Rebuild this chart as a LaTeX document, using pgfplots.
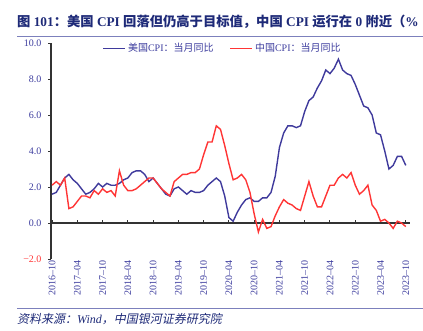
\documentclass[border=0pt]{standalone}
\usepackage{fontspec}
\setmainfont{Liberation Serif}
\newfontfamily\cjk{Noto Sans CJK SC}
\newfontfamily\cjkit[FakeSlant=0.2]{Noto Sans CJK SC}
\usepackage{pgfplots}
\usepackage{pgfplotstable}
\pgfplotsset{compat=1.18}
\definecolor{usblue}{HTML}{3F3A9C}
\definecolor{cnred}{HTML}{FF3535}
\definecolor{tickblue}{HTML}{3D3D9E}
\definecolor{titleblue}{HTML}{1E2A78}
\definecolor{rulecol}{HTML}{7C80BC}

\pgfplotstableread{
i us cn
0 1.6 2.1
1 1.7 2.3
2 2.1 2.1
3 2.5 2.5
4 2.7 0.8
5 2.4 0.9
6 2.2 1.2
7 1.9 1.5
8 1.6 1.5
9 1.7 1.4
10 1.9 1.8
11 2.2 1.6
12 2.0 1.9
13 2.2 1.7
14 2.1 1.8
15 2.1 1.5
16 2.2 2.9
17 2.4 2.1
18 2.5 1.8
19 2.8 1.8
20 2.9 1.9
21 2.9 2.1
22 2.7 2.3
23 2.3 2.5
24 2.5 2.5
25 2.2 2.2
26 1.9 1.9
27 1.6 1.7
28 1.5 1.5
29 1.9 2.3
30 2.0 2.5
31 1.8 2.7
32 1.6 2.7
33 1.8 2.8
34 1.7 2.8
35 1.7 3.0
36 1.8 3.8
37 2.1 4.5
38 2.3 4.5
39 2.5 5.4
40 2.3 5.2
41 1.5 4.3
42 0.3 3.3
43 0.1 2.4
44 0.6 2.5
45 1.0 2.7
46 1.3 2.4
47 1.4 1.7
48 1.2 0.5
49 1.2 -0.5
50 1.4 0.2
51 1.4 -0.3
52 1.7 -0.2
53 2.6 0.4
54 4.2 0.9
55 5.0 1.3
56 5.4 1.1
57 5.4 1.0
58 5.3 0.8
59 5.4 0.7
60 6.2 1.5
61 6.8 2.3
62 7.0 1.5
63 7.5 0.9
64 7.9 0.9
65 8.5 1.5
66 8.3 2.1
67 8.6 2.1
68 9.1 2.5
69 8.5 2.7
70 8.3 2.5
71 8.2 2.8
72 7.7 2.1
73 7.1 1.6
74 6.5 1.8
75 6.4 2.1
76 6.0 1.0
77 5.0 0.7
78 4.9 0.1
79 4.0 0.2
80 3.0 0.0
81 3.2 -0.3
82 3.7 0.1
83 3.7 0.0
84 3.2 -0.2
}\cpidata

\begin{document}
\begin{tikzpicture}
\clip (0,0) rectangle (423pt,330pt);
\path[use as bounding box] (0,0) rectangle (423pt,330pt);
\begin{axis}[
  at={(51pt,71pt)}, anchor=south west,
  scale only axis, width=359pt, height=216pt,
  xmin=-0.25, xmax=85, ymin=-2, ymax=10,
  axis x line=middle, axis y line=left,
  axis line style={-, line width=1.1pt, black!80},
  xtick={0,6,...,84},
  xticklabels={2016--10,2017--04,2017--10,2018--04,2018--10,2019--04,2019--10,2020--04,2020--10,2021--04,2021--10,2022--04,2022--10,2023--04,2023--10},
  xticklabel style={rotate=90, anchor=east, font=\fontsize{10}{10}\selectfont, text=tickblue},
  xticklabel shift=34pt,
  xtick align=inside,
  ytick={-2,0,2,4,6,8,10},
  yticklabels={\textcolor{cnred}{−2.0},0.0,2.0,4.0,6.0,8.0,10.0},
  yticklabel style={font=\fontsize{10}{10}\selectfont, text=tickblue, xshift=-3pt},
  ytick align=outside,
  major tick length=3pt,
  tick style={line width=1pt, black!80},
  /pgf/number format/assume math mode=true,
  legend columns=2,
  legend style={draw=none, fill=none, at={(0.135,1.018)}, anchor=north west,
    font=\fontsize{10}{10}\selectfont, text=tickblue,
    /tikz/every even column/.append style={column sep=14pt}},
  legend image code/.code={\draw[#1] (0pt,0pt) -- (22pt,0pt);},
  clip=false,
]
\addplot[usblue, line width=1.4pt] table[x=i, y=us] {\cpidata};
\addlegendentry{{\cjk 美国}CPI{\cjk ：当月同比}}
\addplot[cnred, line width=1.4pt] table[x=i, y=cn] {\cpidata};
\addlegendentry{{\cjk 中国}CPI{\cjk ：当月同比}}
\end{axis}
\node[anchor=base west, inner sep=0pt, text=titleblue, font=\fontsize{13.3}{13.3}\selectfont\bfseries] at (17pt,303pt)
  {{\cjk 图} 101{\cjk ：美国} CPI {\cjk 回落但仍高于目标值，中国} CPI {\cjk 运行在} 0 {\cjk 附近（}\%};
\draw[rulecol, line width=0.8pt] (17pt,294pt) -- (423pt,294pt);
\draw[rulecol, line width=0.8pt] (17pt,22pt) -- (423pt,22pt);
\node[anchor=base west, inner sep=0pt, text=titleblue, font=\fontsize{12}{12}\selectfont] at (17pt,7pt)
  {{\cjkit 资料来源：}\textit{Wind}{\cjkit ，中国银河证券研究院}};
\end{tikzpicture}
\end{document}
